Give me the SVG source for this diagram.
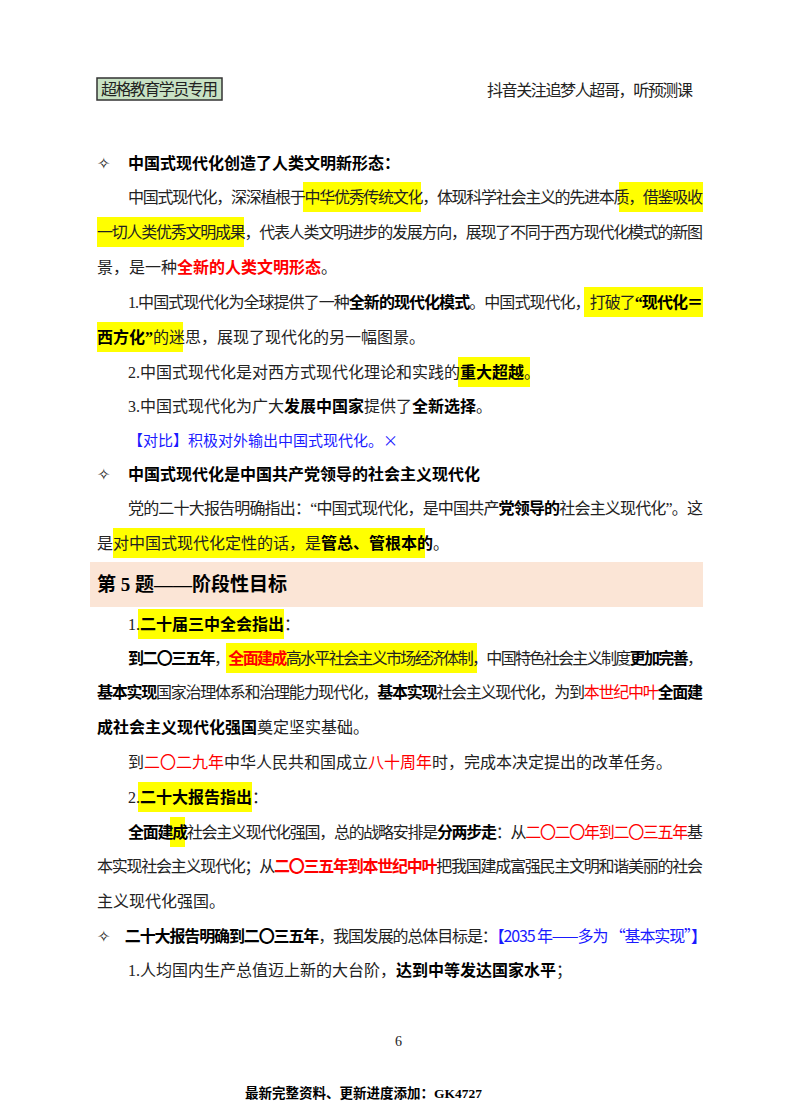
<svg xmlns="http://www.w3.org/2000/svg" width="800" height="1114" viewBox="0 0 800 1114">
<style>
text{font-family:"Liberation Serif","Noto Sans CJK SC",serif;font-size:16px;fill:#222}
.b{font-weight:bold;fill:#000}
.r{fill:#ff0000}
.rb{fill:#ff0000;font-weight:bold}
.bl{fill:#1a1aff;font-family:"Noto Sans CJK SC",sans-serif}
.hl{fill:#ffff00}
</style>
<rect width="800" height="1114" fill="#fff"/>
<g id="header">
<rect x="97" y="78" width="125" height="22" fill="#c8e2c4" stroke="#333" stroke-width="1.5"/>
<text x="101" y="95" textLength="117">超格教育学员专用</text>
<text x="487" y="96" textLength="206">抖音关注追梦人超哥，听预测课</text>
</g>
<g id="highlights">
<rect class="hl" x="303" y="182" width="118" height="30"/>
<rect class="hl" x="619" y="182" width="84" height="30"/>
<rect class="hl" x="97" y="217" width="147" height="30"/>
<rect class="hl" x="584" y="287" width="119" height="30"/>
<rect class="hl" x="97" y="322" width="86" height="30"/>
<rect class="hl" x="458" y="357" width="72" height="30"/>
<rect class="hl" x="113" y="528" width="312" height="30"/>
<rect class="hl" x="138" y="609" width="146" height="30"/>
<rect class="hl" x="226" y="643" width="251" height="30"/>
<rect class="hl" x="138" y="782" width="114" height="30"/>
<rect class="hl" x="170" y="817" width="15" height="30"/>
</g>
<rect x="90" y="562" width="613" height="45" fill="#fbe5d6"/>
<g id="body">
<text x="97" y="169"><tspan>✧</tspan><tspan x="128" class="b">中国式现代化创造了人类文明新形态：</tspan></text>
<text x="128" y="203" textLength="575">中国式现代化，深深植根于中华优秀传统文化，体现科学社会主义的先进本质，借鉴吸收</text>
<text x="97" y="238" textLength="606">一切人类优秀文明成果，代表人类文明进步的发展方向，展现了不同于西方现代化模式的新图</text>
<text x="97" y="273">景，是一种<tspan class="rb">全新的人类文明形态</tspan>。</text>
<text x="128" y="308" textLength="575">1.中国式现代化为全球提供了一种<tspan class="b">全新的现代化模式</tspan>。中国式现代化，打破了<tspan class="b">“现代化＝</tspan></text>
<text x="97" y="343"><tspan class="b">西方化”</tspan>的迷思，展现了现代化的另一幅图景。</text>
<text x="128" y="378">2.中国式现代化是对西方式现代化理论和实践的<tspan class="b">重大超越</tspan>。</text>
<text x="128" y="412">3.中国式现代化为广大<tspan class="b">发展中国家</tspan>提供了<tspan class="b">全新选择</tspan>。</text>
<text x="128" y="446" class="bl" style="font-size:15px">【对比】积极对外输出中国式现代化。×</text>
<text x="97" y="480"><tspan>✧</tspan><tspan x="128" class="b">中国式现代化是中国共产党领导的社会主义现代化</tspan></text>
<text x="128" y="514" textLength="575">党的二十大报告明确指出：“中国式现代化，是中国共产<tspan class="b">党领导的</tspan>社会主义现代化”。这</text>
<text x="97" y="549">是对中国式现代化定性的话，是<tspan class="b">管总、管根本的</tspan>。</text>
<text x="97" y="591" class="b" style="font-size:19px">第 5 题——阶段性目标</text>
<text x="128" y="630">1.<tspan class="b">二十届三中全会指出</tspan>：</text>
<text x="128" y="664" textLength="575"><tspan class="b">到二〇三五年</tspan>，<tspan class="rb">全面建成</tspan>高水平社会主义市场经济体制，中国特色社会主义制度<tspan class="b">更加完善</tspan>，</text>
<text x="97" y="698" textLength="606"><tspan class="b">基本实现</tspan>国家治理体系和治理能力现代化，<tspan class="b">基本实现</tspan>社会主义现代化，为到<tspan class="r">本世纪中叶</tspan><tspan class="b">全面建</tspan></text>
<text x="97" y="733"><tspan class="b">成社会主义现代化强国</tspan>奠定坚实基础。</text>
<text x="128" y="768">到<tspan class="r">二〇二九年</tspan>中华人民共和国成立<tspan class="r">八十周年</tspan>时，完成本决定提出的改革任务。</text>
<text x="128" y="803">2.<tspan class="b">二十大报告指出</tspan>：</text>
<text x="128" y="838" textLength="575"><tspan class="b">全面建成</tspan>社会主义现代化强国，总的战略安排是<tspan class="b">分两步走</tspan>：从<tspan class="r">二〇二〇年到二〇三五年</tspan>基</text>
<text x="97" y="872" textLength="606">本实现社会主义现代化；从<tspan class="rb">二〇三五年到本世纪中叶</tspan>把我国建成富强民主文明和谐美丽的社会</text>
<text x="97" y="907">主义现代化强国。</text>
<text x="97" y="942" textLength="610"><tspan>✧</tspan><tspan dx="16" class="b">二十大报告明确到二〇三五年</tspan>，我国发展的总体目标是：<tspan class="bl">【2035 年——多为 “基本实现”】</tspan></text>
<text x="128" y="976">1.人均国内生产总值迈上新的大台阶，<tspan class="b">达到中等发达国家水平</tspan>；</text>
<text x="395" y="1046" style="font-size:14px">6</text>
<text x="245" y="1098" class="b" style="font-size:13.5px">最新完整资料、更新进度添加：GK4727</text>
</g>
</svg>
